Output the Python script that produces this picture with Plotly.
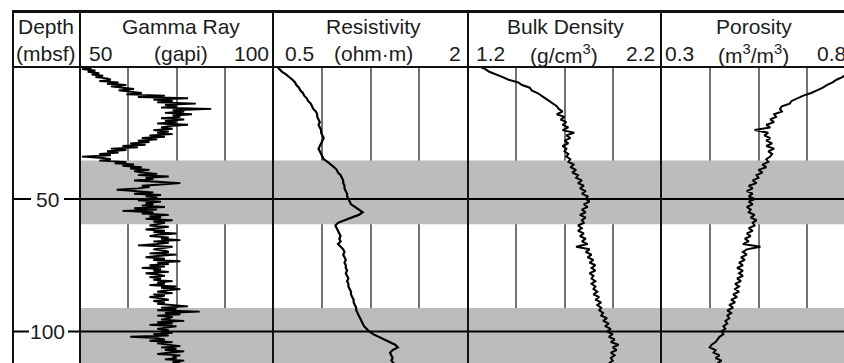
import plotly.graph_objects as go

W, H = 844, 363
OFF = 0  # body margin removed via post_script, figure starts at page origin

# ---------------- data ----------------
depth = list(range(0, 113))                      # mbsf, 1 m sampling
gamma_depth = [i * 0.5 for i in range(225)]       # mbsf, 0.5 m sampling

gamma_ray = [
    51, 53, 50.5, 54, 52, 55, 53, 56, 54, 57,
    58, 55, 60, 57, 62, 58, 61, 64, 60, 63,
    66, 62, 72, 65, 78, 69, 74, 70, 80, 72,
    75, 71, 84, 74, 77, 72, 79, 74, 76, 71,
    77, 72, 75, 70, 78, 73, 71, 74, 69, 73,
    70, 74, 68, 72, 66, 70, 65, 68, 63, 67,
    61, 65, 58, 62, 57, 60, 55, 58, 50.5, 56,
    58, 55, 62, 59, 64, 61, 66, 63, 68, 64,
    66, 70, 65, 73, 67, 69, 64, 70, 76, 71,
    66, 68, 65, 59.5, 66, 69, 64, 71, 67, 70,
    68, 65, 71, 67, 69, 66, 72, 64, 70, 61,
    69, 66, 73, 68, 71, 67, 74, 69, 72, 70,
    68, 73, 70, 67, 72, 69, 75, 70, 68, 73,
    71, 76, 69, 73, 70, 65, 74, 71, 69, 72,
    73, 68, 75, 70, 67, 72, 69, 76, 70, 73,
    68, 72, 66, 71, 69, 73, 67, 70, 72, 68,
    71, 69, 74, 70, 72, 68, 75, 71, 76, 72,
    70, 74, 69, 72, 68, 71, 73, 69, 72, 70,
    74, 78, 71, 75, 70, 81, 72, 76, 70, 74,
    73, 71, 77, 70, 74, 68, 75, 72, 70, 73,
    71, 74, 69, 73, 63, 70, 72, 68, 74, 70,
    73, 76, 71, 75, 72, 77, 73, 70, 76, 74,
    75, 72, 77, 74, 76,
]

resistivity = [
    0.53, 0.55, 0.57, 0.60, 0.63, 0.65, 0.67, 0.68, 0.70, 0.71,
    0.73, 0.74, 0.76, 0.77, 0.79, 0.80, 0.81, 0.83, 0.84, 0.84,
    0.85, 0.86, 0.85, 0.86, 0.87, 0.87, 0.88, 0.89, 0.88, 0.87,
    0.86, 0.85, 0.86, 0.87, 0.88, 0.89, 0.92, 0.95, 0.97, 0.99,
    1.00, 1.02, 1.03, 1.04, 1.04, 1.05, 1.05, 1.06, 1.07, 1.07,
    1.08, 1.09, 1.10, 1.13, 1.16, 1.19, 1.16, 1.10, 1.05, 1.00,
    0.98, 0.99, 1.00, 1.01, 1.02, 1.01, 1.02, 1.00, 1.02, 1.04,
    1.05, 1.04, 1.05, 1.06, 1.05, 1.06, 1.06, 1.07, 1.06, 1.07,
    1.08, 1.07, 1.08, 1.08, 1.09, 1.10, 1.10, 1.11, 1.12, 1.12,
    1.13, 1.14, 1.14, 1.15, 1.16, 1.17, 1.18, 1.19, 1.20, 1.22,
    1.24, 1.27, 1.31, 1.36, 1.40, 1.44, 1.46, 1.42, 1.40, 1.41,
    1.42, 1.41, 1.43,
]

bulk_density = [
    1.26, 1.29, 1.31, 1.35, 1.38, 1.41, 1.46, 1.48, 1.52, 1.53,
    1.56, 1.58, 1.60, 1.62, 1.64, 1.66, 1.67, 1.69, 1.66, 1.70,
    1.68, 1.71, 1.69, 1.72, 1.69, 1.75, 1.71, 1.73, 1.70, 1.72,
    1.69, 1.71, 1.70, 1.72, 1.71, 1.73, 1.72, 1.75, 1.73, 1.76,
    1.74, 1.77, 1.76, 1.79, 1.77, 1.80, 1.78, 1.81, 1.79, 1.82,
    1.81, 1.83, 1.80, 1.82, 1.79, 1.81, 1.78, 1.81, 1.79, 1.80,
    1.77, 1.79, 1.77, 1.80, 1.78, 1.81, 1.79, 1.82, 1.76, 1.83,
    1.81, 1.84, 1.82, 1.85, 1.83, 1.86, 1.84, 1.86, 1.83, 1.85,
    1.84, 1.86, 1.84, 1.86, 1.85, 1.87, 1.85, 1.88, 1.86, 1.89,
    1.87, 1.89, 1.88, 1.90, 1.89, 1.92, 1.90, 1.93, 1.91, 1.94,
    1.92, 1.95, 1.93, 1.96, 1.94, 1.98, 1.95, 1.97, 1.94, 1.96,
    1.94, 1.95, 1.93,
]

porosity = [
    0.80, 0.79, 0.78, 0.775, 0.765, 0.75, 0.74, 0.725, 0.715, 0.70,
    0.685, 0.665, 0.65, 0.635, 0.63, 0.61, 0.605, 0.61, 0.59, 0.595,
    0.58, 0.59, 0.57, 0.58, 0.54, 0.575, 0.565, 0.58, 0.57, 0.585,
    0.57, 0.59, 0.575, 0.585, 0.58, 0.57, 0.575, 0.56, 0.57, 0.55,
    0.56, 0.545, 0.55, 0.535, 0.545, 0.525, 0.535, 0.52, 0.535, 0.525,
    0.54, 0.525, 0.535, 0.52, 0.53, 0.525, 0.54, 0.53, 0.545, 0.535,
    0.54, 0.525, 0.535, 0.52, 0.53, 0.515, 0.525, 0.51, 0.555, 0.52,
    0.51, 0.52, 0.505, 0.515, 0.50, 0.51, 0.495, 0.51, 0.50, 0.51,
    0.495, 0.505, 0.49, 0.50, 0.49, 0.50, 0.485, 0.495, 0.48, 0.49,
    0.475, 0.485, 0.47, 0.48, 0.47, 0.475, 0.465, 0.47, 0.46, 0.465,
    0.455, 0.46, 0.45, 0.445, 0.44, 0.43, 0.425, 0.44, 0.435, 0.45,
    0.44, 0.455, 0.445,
]

band_tops = [35.5, 91.1]
band_bottoms = [59.5, 116]

depth_ticks = [50, 100]
depth_tick_labels = ["50", "100"]

track_titles = ["Gamma Ray", "Resistivity", "Bulk Density", "Porosity"]
track_units = ["(gapi)", "(ohm·m)", "(g/cm<sup>3</sup>)", "(m<sup>3</sup>/m<sup>3</sup>)"]
track_min_labels = ["50", "0.5", "1.2", "0.3"]
track_max_labels = ["100", "2", "2.2", "0.8"]
track_ranges = [[50, 100], [0.5, 2.0], [1.2, 2.2], [0.3, 0.8]]

# ---------------- geometry (screenshot pixels) ----------------
def fx(p):
    return (p - OFF) / W

def fy(p):
    return 1 - (p - OFF) / H

LEFT, TOP, HEAD_BOT = 13, 11.5, 67
ZERO_PX, PX_PER_M = 66.5, 2.65
track_px = [(80, 273), (273, 468), (468, 661), (661, 856)]
y_bottom_depth = (H + OFF - ZERO_PX) / PX_PER_M
right_px = W + OFF

FONT = "Liberation Sans, Arial, sans-serif"
TXT = "#1c1c1c"
GRID = "#737373"
BAND = "#bcbcbc"

fig = go.Figure()
axnames = ["x", "x2", "x3", "x4"]

# gray bands as filled traces (drawn above grid lines, below curves)
for i, ax in enumerate(axnames):
    r0, r1 = track_ranges[i]
    for t, b in zip(band_tops, band_bottoms):
        fig.add_trace(go.Scatter(x=[r0, r1, r1, r0, r0], y=[t, t, b, b, t], mode="lines",
                                 fill="toself", fillcolor=BAND, line=dict(width=0, color=BAND),
                                 xaxis=ax, yaxis="y", showlegend=False, hoverinfo="skip"))

series = [(gamma_ray, gamma_depth, 1.9), (resistivity, depth, 2.2),
          (bulk_density, depth, 2.0), (porosity, depth, 2.0)]
for i, (vals, dep, lw) in enumerate(series):
    fig.add_trace(go.Scatter(x=vals, y=dep, mode="lines", xaxis=axnames[i], yaxis="y",
                             line=dict(color="black", width=lw), showlegend=False,
                             hoverinfo="skip"))

layout = dict(
    width=W, height=H, margin=dict(l=0, r=0, t=0, b=0),
    paper_bgcolor="white", plot_bgcolor="white", showlegend=False,
    yaxis=dict(domain=[0, fy(ZERO_PX)], range=[y_bottom_depth, 0], showgrid=False,
               zeroline=False, showticklabels=False, ticks="", anchor="x", fixedrange=True),
)
for i, ax in enumerate(axnames):
    p0, p1 = track_px[i]
    r0, r1 = track_ranges[i]
    d1 = min(p1, right_px)
    vis_r1 = r0 + (r1 - r0) * (d1 - p0) / (p1 - p0)
    key = "xaxis" if i == 0 else f"xaxis{i+1}"
    layout[key] = dict(domain=[fx(p0), fx(d1)], range=[r0, vis_r1], anchor="y",
                       showgrid=True, gridcolor=GRID, gridwidth=2,
                       tick0=r0, dtick=(r1 - r0) / 4, showticklabels=False,
                       ticks="", zeroline=False, showline=False, fixedrange=True)
fig.update_layout(**layout)

shapes = []
# horizontal depth lines
for d in depth_ticks:
    shapes.append(dict(type="line", xref="paper", yref="y", x0=fx(80), x1=1, y0=d, y1=d,
                       line=dict(color="black", width=2), layer="above"))
# depth tick dashes
dash_px = {50: [(13, 31), (64, 80)], 100: [(13, 29), (68, 80)]}
for d in depth_ticks:
    for a, b in dash_px[d]:
        shapes.append(dict(type="line", xref="paper", yref="y", x0=fx(a), x1=fx(b), y0=d, y1=d,
                           line=dict(color="black", width=2), layer="above"))
# frame lines
shapes.append(dict(type="line", xref="paper", yref="paper", x0=fx(LEFT - 1), x1=1,
                   y0=fy(TOP), y1=fy(TOP), line=dict(color="#111", width=3), layer="above"))
shapes.append(dict(type="line", xref="paper", yref="paper", x0=fx(LEFT), x1=1,
                   y0=fy(HEAD_BOT), y1=fy(HEAD_BOT), line=dict(color="#111", width=2), layer="above"))
for xp in [LEFT, 80, 273, 468, 661]:
    shapes.append(dict(type="line", xref="paper", yref="paper", x0=fx(xp), x1=fx(xp),
                       y0=fy(TOP), y1=0, line=dict(color="#111", width=2), layer="above"))

annotations = []
def txt(text, xp, yp, anchor="center", size=21):
    annotations.append(dict(text=text, x=fx(xp), y=fy(yp), xref="paper", yref="paper",
                            xanchor=anchor, yanchor="middle", showarrow=False,
                            font=dict(family=FONT, size=size, color=TXT)))

txt("Depth", 16, 27, "left")
txt("(mbsf)", 14, 54, "left")
title_cx = [181, 373, 565, 754]
unit_cx = [181, 373, 564, 753]
min_left = [87, 283, 474, 663]
max_right = [271, 463, 657, 872]
for i in range(4):
    txt(track_titles[i], title_cx[i], 27)
    txt(track_units[i], unit_cx[i], 54)
    txt(track_min_labels[i], min_left[i], 54, "left")
    if i < 3:
        txt(track_max_labels[i], max_right[i], 54, "right")
    else:
        txt(track_max_labels[i], 815, 54, "left")

for d, lab in zip(depth_ticks, depth_tick_labels):
    annotations.append(dict(text=lab, x=fx(47.5), y=d, xref="paper", yref="y",
                            xanchor="center", yanchor="middle", showarrow=False,
                            font=dict(family=FONT, size=21, color=TXT)))

fig.update_layout(shapes=shapes, annotations=annotations)
fig.write_html("out.html",
               config={"displayModeBar": False, "staticPlot": True},
               post_script="document.body.style.margin='0';document.body.style.overflow='hidden';")
